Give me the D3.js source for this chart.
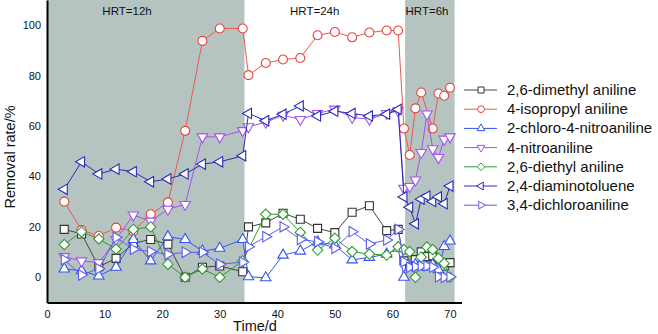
<!DOCTYPE html>
<html><head><meta charset="utf-8">
<script src="https://d3js.org/d3.v7.min.js"></script>
<style>body{margin:0;background:#fff}svg{display:block;font-family:"Liberation Sans",Arial,sans-serif}</style>
</head><body><svg id="c" width="658" height="334"></svg>
<script>
// ---- data ----
const days = [3,6,9,12,15,18,21,24,27,30,34, 35,38,41,44,47,50,53,56,59,61, 62,63,64,65,66,67,68,69,70];
const seriesNames = ["2,6-dimethyl aniline","4-isopropyl aniline","2-chloro-4-nitroaniline","4-nitroaniline","2,6-diethyl aniline","2,4-diaminotoluene","3,4-dichloroaniline"];
const dimethylAniline   = [19,17.2,4.2,7.5,13.5,15,13.1,0,4,4.5,2.2, 20,21.6,25.4,23,19.4,17.7,25.8,28.4,18.5,19, 6.5,5.3,7,10.1,8.2,8.5,4,4.5,5.8];
const isopropylAniline  = [30,18.7,16.4,19.7,18.3,25,29.7,58.1,93.8,98.7,98.7, 80.2,85,86.4,87,96,97.3,95.2,97.1,97.9,97.9, 59,48.5,67,73.3,null,59,72.9,72,75.2];
const chloroNitroanil   = [3.3,2.6,0.5,4,15,6.5,16.1,15,10.4,11.5,15, 0.2,-0.2,8.8,10.4,14.1,12.8,6.9,7.9,9.2,11.5, 0,4,5,6,4,5,3,12.2,14.4];
const nitroaniline      = [8.2,6.5,5.8,15,24.7,22.3,27,28.9,55.7,55.7,58.2, 59.7,61.5,64.3,62.6,65,66.7,63.4,62.7,65,66, 35.3,36,38.6,49.5,64.8,51,47.5,54.8,55.7];
const diethylAniline    = [13,18,15.2,11.2,19,20,5.2,0,3.3,0,6.5, null,25,25,17.8,10.8,15.5,10.2,9.2,8.8,12.1, 11,10.2,0,8,12,11,7.5,5.5,0];
const diaminotoluene    = [34.9,45.8,41,42.9,41.9,37.9,39,41,44.9,45.8,48.2, 65,62.1,64.7,68,64,65.9,65,64,64.7,66.6, 31.9,27.8,21.2,31,32.2,30.1,31.9,29.2,36.2];
const dichloroaniline   = [7,0.9,3.4,15.8,11.1,10.2,9.1,9.9,9.9,5.2,6, 12.1,16.1,20,15,14.1,11.5,18.1,13.2,14.8,19, 6.2,4,4.2,4.5,4.5,4,0.2,0,0.2];
const xTicks = [0,10,20,30,40,50,60,70];
const yTicks = [0,20,40,60,80,100];
const periodStart  = [0, 34.3, 62.2];
const periodEnd    = [34.3, 62.2, 70.8];
const periodLabels = ["HRT=12h","HRT=24h","HRT=6h"];
const periodShaded = [true,false,true];
const periodLabelAt = [13.9, 46.5, 66];

// ---- styles ----
const allValues = [dimethylAniline,isopropylAniline,chloroNitroanil,nitroaniline,diethylAniline,diaminotoluene,dichloroaniline];
const colors = ["#333333","#e8453c","#3354ee","#a452f0","#2e9e2e","#2a2ab8","#5c5cf0"];
const lineColors = ["#444444","#e85a52","#3354ee","#a452f0","#2e9e2e","#2a2ab8","#5c5cf0"];
const shapes = ["square","circle","up","down","diamond","left","right"];

function symbolPath(t, k){
  k = k || 1;
  if(t==="square"){const s=4*k;return `M${-s},${-s}H${s}V${s}H${-s}Z`;}
  if(t==="circle"){const r=4.5*k;return `M${r},0A${r},${r} 0 1,1 ${-r},0A${r},${r} 0 1,1 ${r},0Z`;}
  const r=6*k, a=0.866*r, b=0.5*r;
  if(t==="up") return `M0,${-r}L${a},${b}L${-a},${b}Z`;
  if(t==="down") return `M0,${r}L${a},${-b}L${-a},${-b}Z`;
  if(t==="left") return `M${-r},0L${b},${-a}L${b},${a}Z`;
  if(t==="right") return `M${r},0L${-b},${-a}L${-b},${a}Z`;
  if(t==="diamond"){const d=5.2*k;return `M0,${-d}L${d},0L0,${d}L${-d},0Z`;}
}

const svg = d3.select("#c");
const x = d3.scaleLinear().domain([0,72]).range([47,461.5]);
const y = d3.scaleLinear().domain([-10,110]).range([302.5,0]);

// bands
periodStart.forEach((s,i)=>{
  if(periodShaded[i]) svg.append("rect").attr("x",x(s)).attr("y",y(110)).attr("width",x(periodEnd[i])-x(s)).attr("height",y(-10)-y(110)).attr("fill","#b6c4c1");
  svg.append("text").attr("x",x(periodLabelAt[i])).attr("y",15).attr("text-anchor","middle").attr("font-size","11.5px").attr("fill","#111").text(periodLabels[i]);
});

// axes
const xAxis = svg.append("g").attr("transform",`translate(0,${y(-10)})`).call(d3.axisBottom(x).tickValues(xTicks).tickSize(0).tickPadding(8));
const yAxis = svg.append("g").attr("transform",`translate(${x(0)},0)`).call(d3.axisLeft(y).tickValues(yTicks).tickSize(0).tickPadding(6));
[xAxis,yAxis].forEach(g=>{
  g.select(".domain").attr("stroke","#000").attr("stroke-width",2);
  g.selectAll("text").attr("font-size","11px").attr("fill","#111").attr("font-family","'Liberation Sans',Arial,sans-serif");
});
svg.append("text").attr("x",255).attr("y",331).attr("text-anchor","middle").attr("font-size","14.5px").attr("fill","#111").text("Time/d");
svg.append("text").attr("transform","translate(15,157) rotate(-90)").attr("text-anchor","middle").attr("font-size","14.5px").attr("fill","#111").text("Removal rate/%");

// series
const line = d3.line().x(d=>x(d[0])).y(d=>y(d[1]));
allValues.forEach((vals,i)=>{
  const pts = days.map((d,j)=>[d,vals[j]]).filter(p=>p[1]!==null);
  const g = svg.append("g");
  g.append("path").attr("d",line(pts)).attr("fill","none").attr("stroke",lineColors[i]).attr("stroke-width",1);
  g.selectAll("path.m").data(pts).join("path").attr("class","m")
    .attr("transform",p=>`translate(${x(p[0])},${y(p[1])})`)
    .attr("d",symbolPath(shapes[i])).attr("fill","#fff").attr("stroke",colors[i]).attr("stroke-width",1.1);
});

// legend
const lg = svg.append("g");
seriesNames.forEach((n,i)=>{
  const yy = 90 + i*19.2;
  lg.append("line").attr("x1",464).attr("x2",497).attr("y1",yy).attr("y2",yy).attr("stroke",lineColors[i]).attr("stroke-width",1);
  lg.append("path").attr("transform",`translate(481,${yy})`).attr("d",symbolPath(shapes[i],0.75)).attr("fill","#fff").attr("stroke",colors[i]).attr("stroke-width",1);
  lg.append("text").attr("x",507).attr("y",yy+5).attr("font-size","15px").attr("fill","#111").text(n);
});
</script></body></html>
